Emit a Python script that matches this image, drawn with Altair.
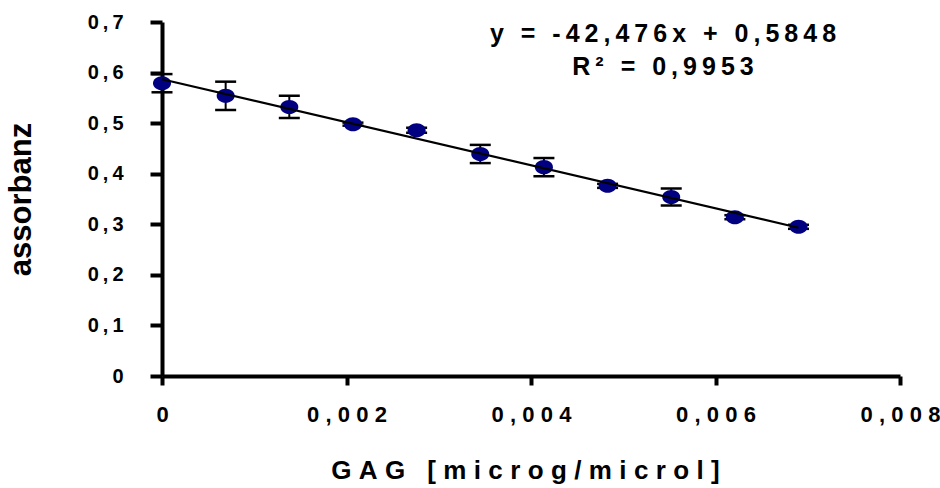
import altair as alt
import pandas as pd

# ---- data ----
gag = [0, 0.00069, 0.00138, 0.00207, 0.00276, 0.00345, 0.00414, 0.00483, 0.00552, 0.00621, 0.0069]
absorb = [0.579, 0.554, 0.532, 0.498, 0.486, 0.439, 0.413, 0.376, 0.354, 0.314, 0.295]
err = [0.018, 0.028, 0.022, 0.003, 0.005, 0.018, 0.018, 0.004, 0.017, 0.004, 0.004]

x_ticks = [0, 0.002, 0.004, 0.006, 0.008]
x_tick_labels = ["0", "0,002", "0,004", "0,006", "0,008"]
y_ticks = [0, 0.1, 0.2, 0.3, 0.4, 0.5, 0.6, 0.7]
y_tick_labels = ["0", "0,1", "0,2", "0,3", "0,4", "0,5", "0,6", "0,7"]

eq_line1 = "y = -42,476x + 0,5848"
eq_line2 = "R² = 0,9953"
x_title = "GAG [microg/microl]"
y_title = "assorbanz"

FONT = "Liberation Sans"
SP = "\u2009\u200a"  # letter spacing emulation
THIN = "\u2009"


def spaced(s, sep=SP):
    return sep.join(list(s))


def label_expr(values, labels, sep=SP):
    parts = [f"abs(datum.value-({v}))<1e-9 ? '{spaced(l, sep)}'" for v, l in zip(values, labels)]
    return " : ".join(parts) + " : ''"


df = pd.DataFrame({
    "x": gag,
    "y": absorb,
    "lo": [a - e for a, e in zip(absorb, err)],
    "hi": [a + e for a, e in zip(absorb, err)],
})

W, H = 738, 354

xscale = alt.Scale(domain=[0, 0.008], nice=False, zero=False)
yscale = alt.Scale(domain=[0, 0.7], nice=False, zero=False)

x_axis = alt.Axis(
    values=x_ticks, labelExpr=label_expr(x_ticks, x_tick_labels),
    labelFont=FONT, labelFontSize=22, labelFontWeight="bold", labelColor="black",
    labelPadding=19, tickSize=9, tickWidth=4, tickColor="black",
    domainColor="black", domainWidth=4, grid=False,
    title=spaced(x_title), titleFont=FONT, titleFontSize=26, titleFontWeight="bold",
    titleColor="black", titleX=363, titleY=102, titleBaseline="alphabetic", titleAlign="center",
    labelFlush=False, labelOverlap=False,
)
y_axis = alt.Axis(
    values=y_ticks, labelExpr=label_expr(y_ticks, y_tick_labels, THIN),
    labelFont=FONT, labelFontSize=20, labelFontWeight="bold", labelColor="black",
    labelPadding=27, tickSize=12, tickWidth=4, tickColor="black",
    domainColor="black", domainWidth=4, grid=False,
    title=y_title, titleFont=FONT, titleFontSize=31, titleFontWeight="bold",
    titleColor="black", titleX=-141, titleY=177, titleAngle=-90,
    titleBaseline="middle", titleAlign="center",
    labelFlush=False, labelOverlap=False,
)

base = alt.Chart(df)

stems = base.mark_rule(color="black", strokeWidth=2).encode(
    x=alt.X("x:Q", scale=xscale, axis=x_axis),
    y=alt.Y("lo:Q", scale=yscale, axis=y_axis),
    y2="hi:Q",
)
caps_lo = base.mark_tick(color="black", orient="horizontal", size=21, thickness=2.5, opacity=1).encode(
    x=alt.X("x:Q", scale=xscale), y=alt.Y("lo:Q", scale=yscale))
caps_hi = base.mark_tick(color="black", orient="horizontal", size=21, thickness=2.5, opacity=1).encode(
    x=alt.X("x:Q", scale=xscale), y=alt.Y("hi:Q", scale=yscale))

ellipse = "M -1 0 A 1 0.78 0 1 0 1 0 A 1 0.78 0 1 0 -1 0 Z"
points = base.mark_point(shape=ellipse, size=324, filled=True, color="#000080", opacity=1).encode(
    x=alt.X("x:Q", scale=xscale), y=alt.Y("y:Q", scale=yscale))

trend = base.transform_regression("x", "y").mark_line(color="black", strokeWidth=2.2).encode(
    x=alt.X("x:Q", scale=xscale), y=alt.Y("y:Q", scale=yscale))

t1 = alt.Chart(pd.DataFrame({"t": [spaced(eq_line1, THIN)]})).mark_text(
    font=FONT, fontSize=25, fontWeight="bold", color="black", align="center", baseline="alphabetic"
).encode(text="t:N", x=alt.value(501), y=alt.value(20))
t2 = alt.Chart(pd.DataFrame({"t": [spaced(eq_line2, THIN)]})).mark_text(
    font=FONT, fontSize=25, fontWeight="bold", color="black", align="center", baseline="alphabetic"
).encode(text="t:N", x=alt.value(501), y=alt.value(53))

chart = alt.layer(stems, caps_lo, caps_hi, points, trend, t1, t2).properties(
    width=W, height=H,
    autosize=alt.AutoSizeParams(type="none"),
    padding={"left": 162, "top": 22, "right": 40, "bottom": 112},
    background="white",
).configure_view(stroke=None)

chart.save("out.html", embed_options={"renderer": "svg", "actions": False})
